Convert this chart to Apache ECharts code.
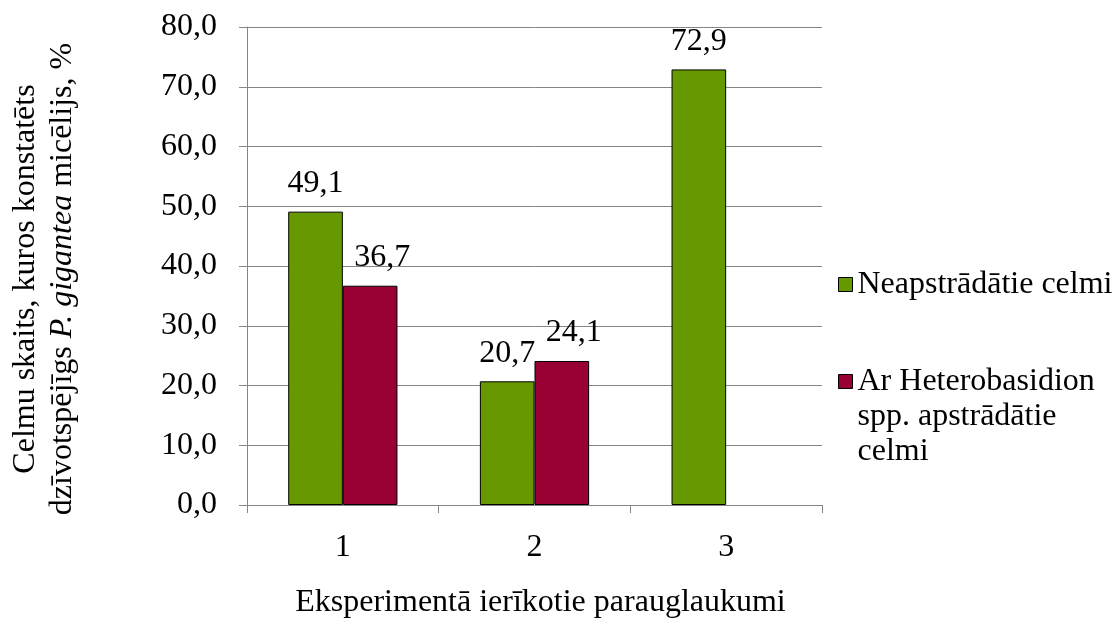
<!DOCTYPE html>
<html>
<head>
<meta charset="utf-8">
<script src="https://cdn.jsdelivr.net/npm/echarts@6/dist/echarts.min.js"></script>
<style>
  html, body { margin: 0; padding: 0; background: #fff; }
  #chart { width: 1117px; height: 624px; }
</style>
</head>
<body>
<div id="chart"></div>
<script>
// Experimental plots and share of stumps with viable P. gigantea mycelium, %
const categories = ['1', '2', '3'];
const untreatedValues = [49.1, 20.7, 72.9];
const treatedValues = [36.7, 24.1, null];
const seriesNames = ['Neapstrādātie celmi', 'Ar Heterobasidion spp. apstrādātie celmi'];
// two leading blank lines keep the icon level with the first text line
const legendLabels = ['Neapstrādātie celmi', '\n\nAr Heterobasidion\nspp. apstrādātie\ncelmi'];
const xAxisTitle = 'Eksperimentā ierīkotie parauglaukumi';
const yAxisTitleLines = ['Celmu skaits, kuros konstatēts', 'dzīvotspējīgs ', 'P. gigantea', ' micēlijs, %'];

const FONT = "'Liberation Serif', 'Times New Roman', serif";
const FS = 32;
const AXIS_GRAY = '#868686';
const fmt = v => v.toFixed(1).replace('.', ',');

const chart = echarts.init(document.getElementById('chart'), null, { renderer: 'canvas' });

const legendBase = {
  orient: 'vertical',
  left: 838,
  padding: 0,
  itemWidth: 14,
  itemHeight: 14,
  itemGap: 0,
  icon: 'rect',
  itemStyle: { borderColor: '#000', borderWidth: 1 },
  formatter: name => legendLabels[seriesNames.indexOf(name)],
  textStyle: { fontFamily: FONT, fontSize: FS, lineHeight: 35, color: '#000' }
};

chart.setOption({
  animation: false,
  backgroundColor: '#fff',
  grid: { left: 247, right: 295, top: 27, bottom: 117, containLabel: false },
  legend: [
    Object.assign({}, legendBase, { top: 267, data: [seriesNames[0]] }),
    Object.assign({}, legendBase, { top: 294, data: [seriesNames[1]] })
  ],
  xAxis: {
    type: 'category',
    data: categories,
    name: xAxisTitle,
    nameLocation: 'middle',
    nameGap: 82,
    nameTextStyle: { fontFamily: FONT, fontSize: FS, color: '#000', padding: [0, 0, 0, 12] },
    axisLine: { show: true, lineStyle: { color: AXIS_GRAY, width: 1 } },
    axisTick: { show: true, length: 8, lineStyle: { color: AXIS_GRAY } },
    axisLabel: { fontFamily: FONT, fontSize: FS, color: '#000', margin: 27 },
    splitLine: { show: false }
  },
  yAxis: {
    type: 'value',
    min: 0,
    max: 80,
    interval: 10,
    name: '{n|' + yAxisTitleLines[0] + '}\n{n|' + yAxisTitleLines[1] + '}{i|' + yAxisTitleLines[2] + '}{n|' + yAxisTitleLines[3] + '}',
    nameLocation: 'middle',
    nameRotate: 90,
    nameGap: 166,
    nameTextStyle: {
      fontFamily: FONT,
      padding: [0, 26, 0, 0],
      rich: {
        n: { fontFamily: FONT, fontSize: FS, lineHeight: 37, color: '#000' },
        i: { fontFamily: FONT, fontSize: FS, lineHeight: 37, color: '#000', fontStyle: 'italic' }
      }
    },
    axisLine: { show: true, lineStyle: { color: AXIS_GRAY, width: 1 } },
    axisTick: { show: true, length: 8, lineStyle: { color: AXIS_GRAY } },
    axisLabel: { fontFamily: FONT, fontSize: FS, color: '#000', margin: 30, formatter: v => fmt(v) },
    splitLine: { show: true, lineStyle: { color: AXIS_GRAY, width: 1 } }
  },
  series: [
    {
      name: seriesNames[0],
      type: 'bar',
      data: untreatedValues,
      barGap: '0%',
      barCategoryGap: '43%',
      itemStyle: { color: '#669900', borderColor: '#000', borderWidth: 1 },
      label: {
        show: true, position: 'top', distance: 12,
        fontFamily: FONT, fontSize: FS, color: '#000',
        formatter: p => fmt(p.value)
      }
    },
    {
      name: seriesNames[1],
      type: 'bar',
      data: treatedValues,
      barGap: '0%',
      barCategoryGap: '43%',
      itemStyle: { color: '#990033', borderColor: '#000', borderWidth: 1 },
      label: {
        show: true, position: 'top', distance: 12, offset: [12, 0],
        fontFamily: FONT, fontSize: FS, color: '#000',
        formatter: p => (p.value == null ? '' : fmt(p.value))
      }
    }
  ]
});
</script>
</body>
</html>
